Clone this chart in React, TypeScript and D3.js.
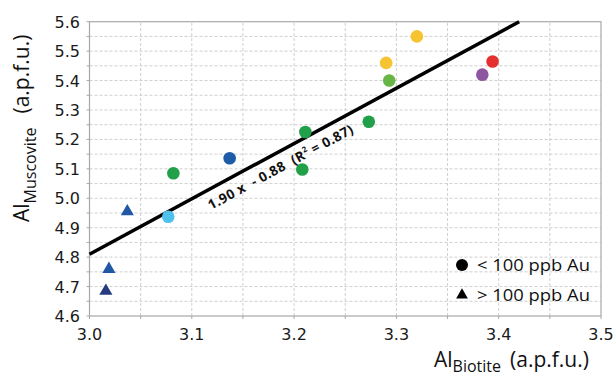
import { useEffect, useRef } from 'react';
import * as d3 from 'd3';

// circles: < 100 ppb Au
const circleX = [3.32, 3.29, 3.293, 3.394, 3.384, 3.273, 3.211, 3.208, 3.137, 3.082, 3.077];
const circleY = [5.55, 5.46, 5.40, 5.465, 5.42, 5.26, 5.225, 5.098, 5.136, 5.085, 4.937];
const circleColors = ['#f6c431', '#f6c431', '#67b547', '#e4312f', '#8e55a1', '#21a049', '#21a049', '#21a049', '#1f5ca8', '#21a049', '#4ec2ec'];

// triangles: > 100 ppb Au
const triX = [3.037, 3.019, 3.016];
const triY = [4.955, 4.759, 4.685];
const triColors = ['#2158a6', '#2158a6', '#263a80'];

// fitted line as drawn
const trendX = [3.0, 3.42];
const trendY = [4.81, 5.6];
const trendLabelAt = 3.18;

const xTicks = [3.0, 3.1, 3.2, 3.3, 3.4, 3.5];
const yTicks = [4.6, 4.7, 4.8, 4.9, 5.0, 5.1, 5.2, 5.3, 5.4, 5.5, 5.6];
const legendLabels = ['< 100 ppb Au', '> 100 ppb Au'];

const W = 614;
const H = 378;

export default function App() {
  const svgRef = useRef<SVGSVGElement>(null);

  useEffect(() => {
    if (!svgRef.current) return;
    const svg = d3.select(svgRef.current);
    svg.selectAll('*').remove();

    const x = d3.scaleLinear().domain([3.0, 3.5]).range([89.5, 601]);
    const y = d3.scaleLinear().domain([4.6, 5.6]).range([316, 21.7]);

    svg.append('rect').attr('width', W).attr('height', H).attr('fill', '#fff');

    // dashed grid every 0.05
    const gridX = d3.range(1, 10).map(i => 3.0 + i * 0.05);
    const gridY = d3.range(1, 20).map(i => 4.6 + i * 0.05);
    const grid = svg.append('g').attr('stroke', '#cfcfcf').attr('stroke-dasharray', '3,2').attr('stroke-width', 1);
    grid.selectAll('line.gx').data(gridX).join('line')
      .attr('x1', d => x(d)).attr('x2', d => x(d))
      .attr('y1', y(4.6)).attr('y2', y(5.6));
    grid.selectAll('line.gy').data(gridY).join('line')
      .attr('x1', x(3.0)).attr('x2', x(3.5))
      .attr('y1', d => y(d)).attr('y2', d => y(d));

    // frame
    svg.append('rect')
      .attr('x', x(3.0)).attr('y', y(5.6))
      .attr('width', x(3.5) - x(3.0)).attr('height', y(4.6) - y(5.6))
      .attr('fill', 'none').attr('stroke', '#a8a8a8').attr('stroke-width', 1.2);

    // small ticks
    const tickG = svg.append('g').attr('stroke', '#a8a8a8').attr('stroke-width', 1);
    tickG.selectAll('line.tx').data(d3.range(0, 11).map(i => 3.0 + i * 0.05)).join('line')
      .attr('x1', d => x(d)).attr('x2', d => x(d))
      .attr('y1', y(4.6)).attr('y2', y(4.6) + 3);
    tickG.selectAll('line.ty').data(d3.range(0, 21).map(i => 4.6 + i * 0.05)).join('line')
      .attr('x1', x(3.0) - 3).attr('x2', x(3.0))
      .attr('y1', d => y(d)).attr('y2', d => y(d));

    // tick labels
    const tickFont = '"DejaVu Sans", sans-serif';
    svg.append('g').selectAll('text').data(xTicks).join('text')
      .attr('x', d => x(d)).attr('y', 340)
      .attr('text-anchor', 'middle')
      .style('font-family', tickFont).style('font-size', '16px').style('fill', '#1a1a1a')
      .text(d => d.toFixed(1));
    svg.append('g').selectAll('text').data(yTicks).join('text')
      .attr('x', 80).attr('y', d => y(d) + 6)
      .attr('text-anchor', 'end')
      .style('font-family', tickFont).style('font-size', '16px').style('fill', '#1a1a1a')
      .text(d => d.toFixed(1));

    // trend line
    const line = d3.line<number>().x(d => x(trendX[d])).y(d => y(trendY[d]));
    svg.append('path')
      .attr('d', line([0, 1]))
      .attr('fill', 'none').attr('stroke', '#000').attr('stroke-width', 3.5);

    const angle = Math.atan2(y(trendY[1]) - y(trendY[0]), x(trendX[1]) - x(trendX[0])) * 180 / Math.PI;
    const t = (trendLabelAt - trendX[0]) / (trendX[1] - trendX[0]);
    const lx = x(trendLabelAt);
    const ly = y(trendY[0] + t * (trendY[1] - trendY[0]));
    const eq = svg.append('text')
      .attr('transform', `translate(${lx},${ly}) rotate(${angle})`)
      .attr('text-anchor', 'middle').attr('y', 19)
      .attr('textLength', 163).attr('lengthAdjust', 'spacing')
      .style('font-family', '"Open Sans", sans-serif').style('font-size', '13.5px')
      .style('font-weight', 'bold').style('fill', '#111')
      .style('white-space', 'pre');
    eq.append('tspan').text('1.90 x  - 0.88  (R');
    eq.append('tspan').attr('dy', -6).style('font-size', '8px').text('2');
    eq.append('tspan').attr('dy', 6).text(' = 0.87)');

    // points
    svg.append('g').selectAll('circle').data(circleX).join('circle')
      .attr('cx', d => x(d)).attr('cy', (_, i) => y(circleY[i]))
      .attr('r', 6.3).attr('fill', (_, i) => circleColors[i]);

    const tri = d3.symbol().type(d3.symbolTriangle).size(75);
    svg.append('g').selectAll('path').data(triX).join('path')
      .attr('transform', (d, i) => `translate(${x(d)},${y(triY[i])})`)
      .attr('d', tri()).attr('fill', (_, i) => triColors[i]);

    // legend
    const lg = svg.append('g');
    lg.append('circle').attr('cx', 462).attr('cy', 265).attr('r', 6).attr('fill', '#000');
    lg.append('path').attr('transform', 'translate(462,295)')
      .attr('d', d3.symbol().type(d3.symbolTriangle).size(60)()).attr('fill', '#000');
    lg.selectAll('text').data(legendLabels).join('text')
      .attr('x', 477).attr('y', (_, i) => 271 + i * 30)
      .attr('textLength', 113).attr('lengthAdjust', 'spacingAndGlyphs')
      .style('font-family', '"Open Sans", sans-serif').style('font-size', '17px').style('fill', '#111')
      .text(d => d);

    // axis titles
    const titleFont = '"Open Sans", sans-serif';
    const xt = svg.append('text').attr('x', 434).attr('y', 367)
      .style('font-family', titleFont).style('font-size', '21px').style('fill', '#111');
    xt.append('tspan').text('Al');
    xt.append('tspan').attr('dy', 5).style('font-size', '16px').text('Biotite');
    xt.append('tspan').attr('dy', -5).attr('dx', 9).text('(a.p.f.u.)');

    const yt = svg.append('text').attr('transform', 'translate(29,222) rotate(-90)')
      .style('font-family', titleFont).style('font-size', '21px').style('fill', '#111');
    yt.append('tspan').text('Al');
    yt.append('tspan').attr('dy', 7).style('font-size', '16px').text('Muscovite');
    yt.append('tspan').attr('dy', -7).attr('dx', 14).text('(a.p.f.u.)');
  }, []);

  return (
    <svg ref={svgRef} width={W} height={H}
      style={{ position: 'absolute', left: 0, top: 0, display: 'block' }} />
  );
}
